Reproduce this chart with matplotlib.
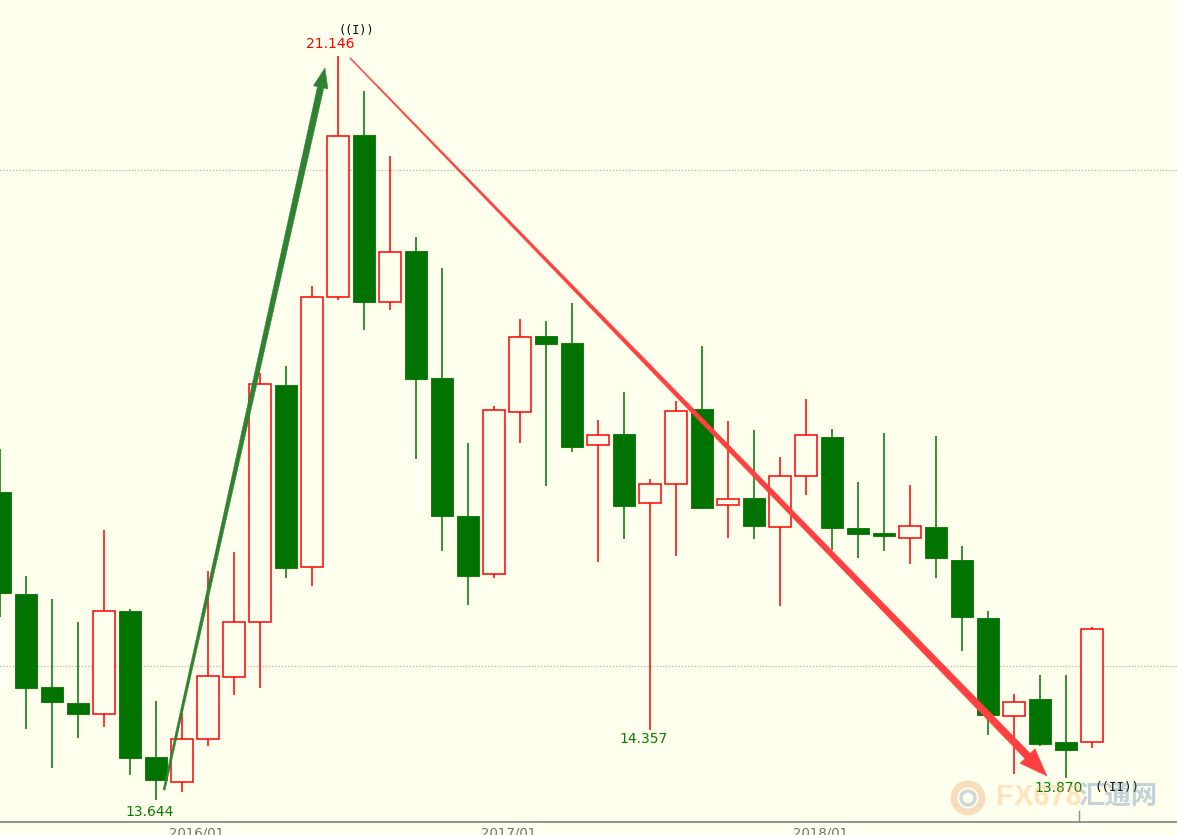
import matplotlib
matplotlib.use("Agg")
import matplotlib.pyplot as plt
from matplotlib.patches import Polygon, Circle
from matplotlib.transforms import IdentityTransform
import numpy as np

# monthly candles, Jun 2015 .. Dec 2018
months = ["2015/06", "2015/07", "2015/08", "2015/09", "2015/10", "2015/11", "2015/12",
          "2016/01", "2016/02", "2016/03", "2016/04", "2016/05", "2016/06", "2016/07",
          "2016/08", "2016/09", "2016/10", "2016/11", "2016/12",
          "2017/01", "2017/02", "2017/03", "2017/04", "2017/05", "2017/06", "2017/07",
          "2017/08", "2017/09", "2017/10", "2017/11", "2017/12",
          "2018/01", "2018/02", "2018/03", "2018/04", "2018/05", "2018/06", "2018/07",
          "2018/08", "2018/09", "2018/10", "2018/11", "2018/12"]
opens = [16.754, 15.726, 14.788, 14.627, 14.516, 15.554, 14.083,
         13.831, 14.264, 14.889, 15.444, 17.833, 15.998, 18.720,
         20.353, 18.669, 19.183, 17.903, 16.512,
         15.927, 17.560, 18.327, 18.256, 17.228, 17.339, 16.643,
         16.835, 17.591, 16.623, 16.694, 16.401,
         16.915, 17.308, 16.391, 16.341, 16.290, 16.401, 16.069,
         15.484, 14.496, 14.667, 14.234, 14.234]
highs = [17.190, 15.907, 15.675, 15.444, 16.371, 15.575, 14.647,
         14.526, 15.958, 16.149, 17.954, 18.024, 18.831, 21.146,
         20.796, 20.141, 19.325, 19.012, 17.248,
         17.621, 18.498, 18.478, 18.659, 17.480, 17.762, 16.885,
         17.671, 18.226, 17.470, 17.379, 17.107,
         17.692, 17.389, 16.855, 17.349, 16.825, 17.319, 16.210,
         15.554, 14.718, 14.909, 14.909, 15.393]
lows = [15.494, 14.365, 13.972, 14.274, 14.385, 13.901, 13.644,
        13.730, 14.194, 14.708, 14.778, 15.887, 15.806, 18.690,
        18.387, 18.589, 17.087, 16.159, 15.615,
        15.887, 17.248, 16.815, 17.157, 16.048, 16.280, 14.357,
        16.109, 16.580, 16.290, 16.280, 15.605,
        16.724, 16.169, 16.089, 16.159, 16.028, 15.887, 15.151,
        14.304, 13.911, 14.194, 13.870, 14.173]
closes = [15.736, 14.778, 14.637, 14.516, 15.554, 14.073, 13.851,
          14.264, 14.899, 15.444, 17.843, 15.988, 18.720, 20.343,
          18.669, 19.173, 17.893, 16.512, 15.907,
          17.581, 18.317, 18.246, 17.208, 17.329, 16.613, 16.835,
          17.571, 16.593, 16.683, 16.411, 16.915,
          17.329, 16.391, 16.331, 16.310, 16.411, 16.089, 15.494,
          14.506, 14.637, 14.214, 14.153, 15.373]

grid_levels = [15, 20]
year_labels = ["2016/01", "2017/01", "2018/01"]

bg = "#ffffee"
up_col = "#ff0000"
dn_col = "#007300"

fig = plt.figure(figsize=(11.77, 8.35), dpi=100, facecolor=bg)
ax = fig.add_axes([0, 13 / 835, 1, 1 - 13 / 835])
ax.set_facecolor(bg)

x = np.arange(len(months))
o = np.array(opens); c = np.array(closes)
h = np.array(highs); l = np.array(lows)
up = c >= o
body_lo = np.minimum(o, c)
body_hi = np.maximum(o, c)

# wicks
for i in x:
    col = up_col if up[i] else dn_col
    ax.plot([i, i], [body_hi[i], h[i]], color=col, lw=1.1, zorder=2, solid_capstyle="butt")
    ax.plot([i, i], [l[i], body_lo[i]], color=col, lw=1.1, zorder=2, solid_capstyle="butt")

# bodies
w = 0.84
ax.bar(x[up], body_hi[up] - body_lo[up], bottom=body_lo[up], width=w,
       facecolor=bg, edgecolor=up_col, linewidth=1.1, zorder=3)
ax.bar(x[~up], body_hi[~up] - body_lo[~up], bottom=body_lo[~up], width=w,
       facecolor=dn_col, edgecolor=dn_col, linewidth=0.6, zorder=3)

for g in grid_levels:
    ax.axhline(g, color="#b4b4b4", lw=0.9, ls=(0, (1, 1.5)), zorder=1)

ax.set_xlim(0, 1177 / 26)
ax.set_ylim(13.427, 21.714)

# x labels: left-aligned at the slot of each January
ticks = [months.index(m) - 0.5 for m in year_labels]
for t, lab in zip(ticks, year_labels):
    ax.text(t, -0.006, lab, transform=ax.get_xaxis_transform(), ha="left", va="top",
            fontsize=9.5, color="#707070", clip_on=False)
ax.set_xticks([])
ax.set_yticks([])
for s in ["top", "right", "left"]:
    ax.spines[s].set_visible(False)
ax.spines["bottom"].set_color("#808080")
ax.spines["bottom"].set_linewidth(1.2)
# small marker after the last-but-one bar
ax.axvline(len(months) - 1.5, ymin=0, ymax=11 / 822, color="#909090", lw=1)

# price labels
i_hi = int(np.argmax(h))
i_lo = int(np.argmin(l))
ax.text(i_hi - 0.3, h[i_hi] + 0.05, f"{h[i_hi]:.3f}", color="#ff0000", ha="center", va="bottom", fontsize=10)
ax.text(i_hi + 0.7, h[i_hi] + 0.2, "((I))", color="black", ha="center", va="bottom",
        fontsize=8.5, family="DejaVu Sans Mono")
ax.text(i_lo - 0.25, l[i_lo] - 0.05, f"{l[i_lo]:.3f}", color="#0a7a00", ha="center", va="top", fontsize=10)
ax.text(25 - 0.25, l[25] - 0.02, f"{l[25]:.3f}", color="#0a7a00", ha="center", va="top", fontsize=10)
ax.text(41 - 0.3, l[41] - 0.03, f"{l[41]:.3f}", color="#0a7a00", ha="center", va="top", fontsize=10)
ax.text(41 + 1.95, l[41] - 0.03, "((II))", color="black", ha="center", va="top",
        fontsize=9, family="DejaVu Sans Mono")

# watermark
fig.text(996 / 1177, 38 / 835, "FX678", color="#ffb060", alpha=0.35, fontsize=21, fontweight="bold",
         ha="left", va="center", family="Liberation Sans")
fig.text(1078 / 1177, 38 / 835, "汇通网", color="#5080b0", alpha=0.35, fontsize=19, fontweight="bold",
         ha="left", va="center", family=["Noto Sans CJK SC", "DejaVu Sans"])
fig.add_artist(Circle((968, 37), 14, transform=IdentityTransform(), fill=False,
                      edgecolor="#e8a060", lw=5, alpha=0.35))
fig.add_artist(Circle((968, 37), 7, transform=IdentityTransform(), fill=False,
                      edgecolor="#7090b0", lw=2.5, alpha=0.35))


def tapered_arrow(p_start, p_end, w0, w1, head_w, head_len, color):
    fig.canvas.draw()
    a = ax.transData.transform(p_start)
    b = ax.transData.transform(p_end)
    d = b - a
    u = d / np.hypot(*d)
    n = np.array([-u[1], u[0]])
    base = b - u * head_len
    pts = [a + n * w0 / 2, base + n * w1 / 2, base + n * head_w / 2, b,
           base - n * head_w / 2, base - n * w1 / 2, a - n * w0 / 2]
    fig.add_artist(Polygon(pts, closed=True, transform=IdentityTransform(),
                           facecolor=color, edgecolor=color, lw=0.3, zorder=5))


tapered_arrow((6.31, 13.75), (12.5, 21.03), 2, 6.5, 15, 20, "#2e8232")
tapered_arrow((13.46, 21.13), (40.27, 13.89), 1, 7.5, 21, 28, "#ff4040")

fig.savefig("out.png", dpi=100, facecolor=bg)
